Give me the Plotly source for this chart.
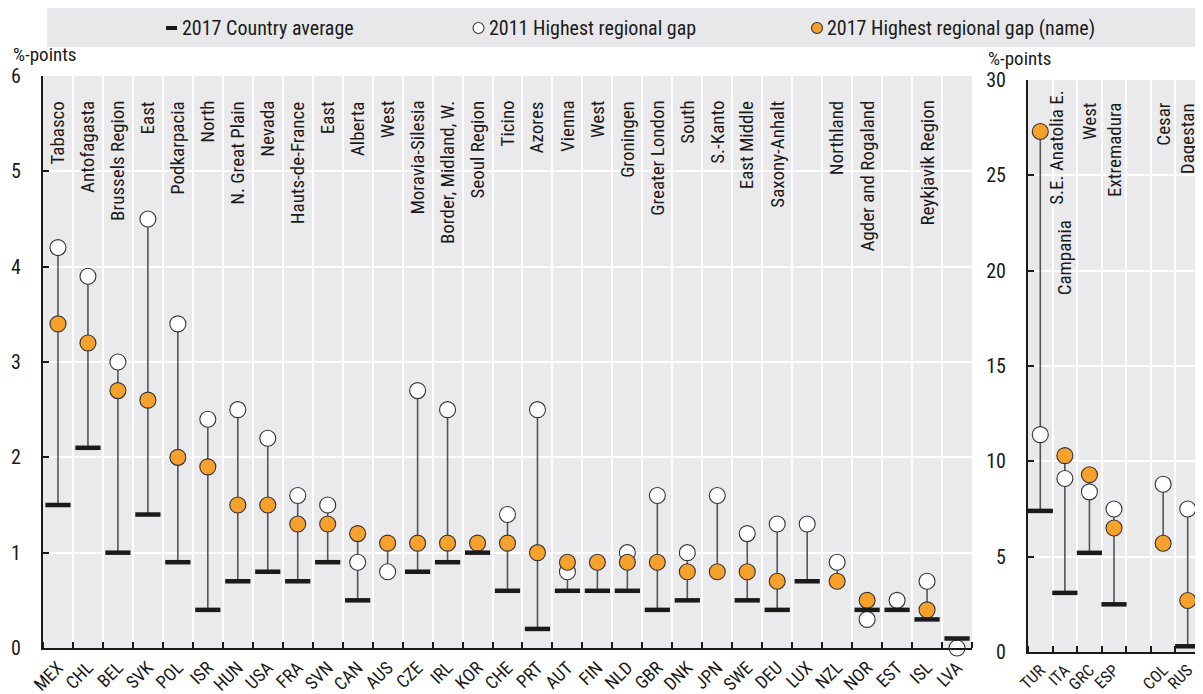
import plotly.graph_objects as go

# ---------------- data ----------------
countries_left = ["MEX", "CHL", "BEL", "SVK", "POL", "ISR", "HUN", "USA", "FRA", "SVN", "CAN",
                  "AUS", "CZE", "IRL", "KOR", "CHE", "PRT", "AUT", "FIN", "NLD", "GBR", "DNK",
                  "JPN", "SWE", "DEU", "LUX", "NZL", "NOR", "EST", "ISL", "LVA"]
avg2017_left = [1.5, 2.1, 1.0, 1.4, 0.9, 0.4, 0.7, 0.8, 0.7, 0.9, 0.5,
                None, 0.8, 0.9, 1.0, 0.6, 0.2, 0.6, 0.6, 0.6, 0.4, 0.5,
                None, 0.5, 0.4, 0.7, None, 0.4, 0.4, 0.3, 0.1]
gap2011_left = [4.2, 3.9, 3.0, 4.5, 3.4, 2.4, 2.5, 2.2, 1.6, 1.5, 0.9,
                0.8, 2.7, 2.5, None, 1.4, 2.5, 0.8, None, 1.0, 1.6, 1.0,
                1.6, 1.2, 1.3, 1.3, 0.9, 0.3, 0.5, 0.7, 0.0]
gap2017_left = [3.4, 3.2, 2.7, 2.6, 2.0, 1.9, 1.5, 1.5, 1.3, 1.3, 1.2,
                1.1, 1.1, 1.1, 1.1, 1.1, 1.0, 0.9, 0.9, 0.9, 0.9, 0.8,
                0.8, 0.8, 0.7, None, 0.7, 0.5, None, 0.4, None]
regions_left = ["Tabasco", "Antofagasta", "Brussels Region", "East", "Podkarpacia", "North",
                "N. Great Plain", "Nevada", "Hauts-de-France", "East", "Alberta", "West",
                "Moravia-Silesia", "Border, Midland, W.", "Seoul Region", "Ticino", "Azores",
                "Vienna", "West", "Groningen", "Greater London", "South", "S.-Kanto",
                "East Middle", "Saxony-Anhalt", "", "Northland", "Agder and Rogaland", "",
                "Reykjavik Region", ""]

countries_right = ["TUR", "ITA", "GRC", "ESP", "", "COL", "RUS"]
avg2017_right = [7.4, 3.1, 5.2, 2.5, None, None, 0.3]
gap2011_right = [11.4, 9.1, 8.4, 7.5, None, 8.8, 7.5]
gap2017_right = [27.3, 10.3, 9.3, 6.5, None, 5.7, 2.7]
regions_right = ["S.E. Anatolia E.", "Campania", "West", "Extremadura", "", "Cesar", "Dagestan"]

legend_names = ["2017 Country average", "2011 Highest regional gap", "2017 Highest regional gap (name)"]

# ---------------- style ----------------
W, H = 1203, 694
OFF = 8  # page body margin in the browser
FONT = "Roboto Condensed, DejaVu Sans Condensed, sans-serif"
TXT = "#1a1a1a"
ORANGE = "#F6A12C"
BG = "#EAEAED"
STEM = "#555555"


def px(x):
    return (x - OFF) / W


def py(y):
    return 1 - (y - OFF) / H


fig = go.Figure()


def add_panel(cats, avg, g11, g17, xa, ya):
    xs = list(range(len(cats)))
    lx, ly = [], []
    for i in xs:
        vals = [v for v in (avg[i], g11[i], g17[i]) if v is not None]
        if len(vals) >= 2:
            lx += [i, i, None]
            ly += [min(vals), max(vals), None]
    fig.add_trace(go.Scatter(x=lx, y=ly, mode="lines", xaxis=xa, yaxis=ya,
                             line=dict(color=STEM, width=1.6), hoverinfo="skip",
                             showlegend=False, cliponaxis=False))
    fig.add_trace(go.Scatter(x=xs, y=g11, mode="markers", xaxis=xa, yaxis=ya,
                             name=legend_names[1], showlegend=False, cliponaxis=False,
                             marker=dict(size=16, color="white",
                                         line=dict(color="#333333", width=1.1))))
    fig.add_trace(go.Scatter(x=xs, y=g17, mode="markers", xaxis=xa, yaxis=ya,
                             name=legend_names[2], showlegend=False, cliponaxis=False,
                             marker=dict(size=16, color=ORANGE,
                                         line=dict(color="#333333", width=1.1))))
    fig.add_trace(go.Scatter(x=xs, y=avg, mode="markers", xaxis=xa, yaxis=ya,
                             name=legend_names[0], showlegend=False, cliponaxis=False,
                             marker=dict(symbol="line-ew", size=18,
                                         line=dict(color="#1a1a1a", width=4.5))))


add_panel(countries_left, avg2017_left, gap2011_left, gap2017_left, "x", "y")
add_panel(countries_right, avg2017_right, gap2011_right, gap2017_right, "x2", "y2")


def xstyle(fsize):
    return dict(showgrid=False, ticks="", showline=True, linecolor="#1a1a1a", linewidth=2.2,
                tickangle=-45, tickfont=dict(family=FONT, size=fsize, color=TXT),
                zeroline=False, fixedrange=True, ticklabelstandoff=0, automargin=False,
                minor=dict(tick0=0.5, dtick=1, ticks="inside", ticklen=6, tickwidth=2,
                           tickcolor="#1a1a1a", showgrid=True, gridcolor="white", gridwidth=2))


ycommon = dict(showgrid=True, gridcolor="white", gridwidth=2, ticks="inside", ticklen=6,
               tickwidth=2, tickcolor="#1a1a1a", showline=True, linecolor="#1a1a1a",
               linewidth=2.2, zeroline=False, tickfont=dict(family=FONT, size=20, color=TXT),
               ticklabelstandoff=16, fixedrange=True, automargin=False)

fig.update_layout(
    width=W, height=H, margin=dict(l=0, r=0, t=0, b=0),
    paper_bgcolor="white", plot_bgcolor=BG, showlegend=False,
    font=dict(family=FONT, color=TXT),
    xaxis=dict(domain=[px(43), px(972)], range=[-0.5, len(countries_left) - 0.5],
               tickmode="array", tickvals=list(range(len(countries_left))),
               ticktext=countries_left, anchor="y", **xstyle(18)),
    yaxis=dict(domain=[py(648), py(76)], range=[0, 6], dtick=1, anchor="x", **ycommon),
    xaxis2=dict(domain=[px(1028), px(1200)], range=[-0.5, len(countries_right) - 0.5],
                tickmode="array", tickvals=list(range(len(countries_right))),
                ticktext=countries_right, anchor="y2", **xstyle(16.5)),
    yaxis2=dict(domain=[py(652), py(80)], range=[0, 30], dtick=5, anchor="x2", **ycommon),
)

ann = []
# region names (rotated), left panel
for i, name in enumerate(regions_left):
    if name:
        ann.append(dict(x=i, y=py(99), xref="x", yref="paper", text=name, textangle=-90,
                        showarrow=False, xanchor="center", yanchor="top",
                        font=dict(family=FONT, size=19, color=TXT)))
# right panel, with label placement offsets to avoid overlaps
label_shift_x = {0: 0.65}
label_top_px = {0: 88, 1: 218}
for i, name in enumerate(regions_right):
    if name:
        ann.append(dict(x=i + label_shift_x.get(i, 0), y=py(label_top_px.get(i, 101)),
                        xref="x2", yref="paper", text=name, textangle=-90,
                        showarrow=False, xanchor="center", yanchor="top",
                        font=dict(family=FONT, size=19, color=TXT)))

# axis unit labels
ann.append(dict(x=px(11), y=py(55), xref="paper", yref="paper", text="%-points",
                showarrow=False, xanchor="left", yanchor="middle",
                font=dict(family=FONT, size=19, color=TXT)))
ann.append(dict(x=px(986), y=py(58), xref="paper", yref="paper", text="%-points",
                showarrow=False, xanchor="left", yanchor="middle",
                font=dict(family=FONT, size=19, color=TXT)))

# custom legend
LY = 28
ann.append(dict(x=px(180), y=py(LY), xref="paper", yref="paper", text=legend_names[0],
                showarrow=False, xanchor="left", yanchor="middle",
                font=dict(family=FONT, size=20, color=TXT)))
ann.append(dict(x=px(487), y=py(LY), xref="paper", yref="paper", text=legend_names[1],
                showarrow=False, xanchor="left", yanchor="middle",
                font=dict(family=FONT, size=20, color=TXT)))
ann.append(dict(x=px(825), y=py(LY), xref="paper", yref="paper", text=legend_names[2],
                showarrow=False, xanchor="left", yanchor="middle",
                font=dict(family=FONT, size=20, color=TXT)))

shapes = [
    dict(type="rect", xref="paper", yref="paper", x0=px(47), x1=px(1210), y0=py(47), y1=py(8),
         fillcolor="#E8E8EA", line=dict(width=0), layer="below"),
    dict(type="line", xref="paper", yref="paper", x0=px(166), x1=px(177), y0=py(LY), y1=py(LY),
         line=dict(color="#1a1a1a", width=4)),
    dict(type="circle", xref="paper", yref="paper", x0=px(473), x1=px(484),
         y0=py(LY + 5.5), y1=py(LY - 5.5), fillcolor="white", line=dict(color="#333333", width=1.1)),
    dict(type="circle", xref="paper", yref="paper", x0=px(811.5), x1=px(822.5),
         y0=py(LY + 5.5), y1=py(LY - 5.5), fillcolor=ORANGE, line=dict(color="#333333", width=1.1)),
]

fig.update_layout(annotations=ann, shapes=shapes)
fig.write_html("out.html")
